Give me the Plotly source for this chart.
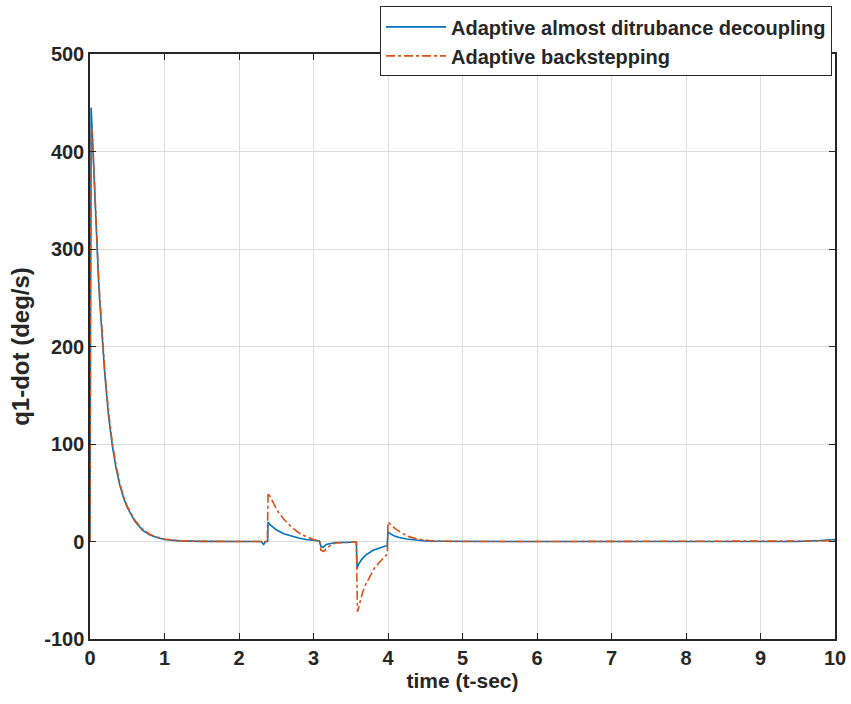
import plotly.graph_objects as go

# Adaptive almost disturbance decoupling (blue, solid)
t_add = [0, 0.005, 0.015, 0.03, 0.05, 0.07, 0.09, 0.11, 0.13, 0.16, 0.2, 0.25, 0.3, 0.35, 0.4, 0.45,
         0.5, 0.6, 0.7, 0.8, 0.9, 1.0, 1.2, 1.5, 2.0, 2.3, 2.33, 2.36, 2.385, 2.39, 2.42, 2.46, 2.5,
         2.6, 2.7, 2.8, 2.9, 3.0, 3.08, 3.1, 3.13, 3.17, 3.22, 3.3, 3.4, 3.5, 3.575, 3.585, 3.6,
         3.65, 3.7, 3.8, 3.9, 3.99, 4.0, 4.03, 4.08, 4.15, 4.25, 4.35, 4.5, 4.7, 5.0, 6.0, 7.0,
         8.0, 9.0, 9.5, 9.8, 10.0]
y_add = [0, 300, 445, 420, 380, 340, 305, 275, 247, 210, 170, 128, 98, 75, 58, 45,
         35, 21, 12, 7, 4, 2, 0.6, 0.1, 0, 0, -3, 0, 0, 20, 17, 14, 12,
         8, 5.5, 3.5, 2, 1, 0.5, -5, -6, -3, -2, -1, -1, -0.5, -0.5, -28, -24,
         -18, -14, -9, -6, -4, 10, 8, 6, 4, 2.5, 1.5, 0.5, 0.2, 0, 0, 0,
         0, 0, 0, 1, 2]

# Adaptive backstepping (orange, dash-dot)
t_ab = [0, 0.005, 0.02, 0.035, 0.05, 0.07, 0.09, 0.11, 0.13, 0.16, 0.2, 0.25, 0.3, 0.35, 0.4, 0.45,
        0.5, 0.6, 0.7, 0.8, 0.9, 1.0, 1.2, 1.5, 2.0, 2.38, 2.39, 2.43, 2.47, 2.52, 2.6, 2.7, 2.8,
        2.9, 3.0, 3.08, 3.1, 3.14, 3.18, 3.24, 3.3, 3.4, 3.5, 3.575, 3.59, 3.62, 3.66, 3.7, 3.76,
        3.82, 3.9, 3.99, 4.0, 4.04, 4.1, 4.18, 4.28, 4.4, 4.55, 4.7, 5.0, 6.0, 7.0, 8.0, 9.0,
        9.5, 9.8, 10.0]
y_ab = [0, 250, 425, 415, 385, 345, 310, 280, 252, 215, 174, 132, 101, 78, 60, 46,
        36, 22, 13, 7.5, 4.5, 2.5, 0.7, 0.1, 0, 0, 50, 44, 38, 31, 23, 15, 9,
        5, 2, 0.5, -9, -10, -7, -3, -1.5, -1, -0.5, -0.5, -72, -62, -52, -44, -35,
        -27, -20, -13, 20, 17, 13, 9, 5, 2.5, 1, 0.3, 0, 0, 0, 0, 0,
        0, 0.5, 1]

x_ticks = [0, 1, 2, 3, 4, 5, 6, 7, 8, 9, 10]
y_ticks = [-100, 0, 100, 200, 300, 400, 500]

fig = go.Figure()
fig.add_trace(go.Scatter(x=t_add, y=y_add, mode="lines",
                         name="Adaptive almost ditrubance decoupling",
                         line=dict(color="#0072BD", width=1.6)))
fig.add_trace(go.Scatter(x=t_ab, y=y_ab, mode="lines",
                         name="Adaptive backstepping",
                         line=dict(color="#D95319", width=1.6, dash="dashdot")))

font_b = "Liberation Sans, Arial, sans-serif"
fig.update_layout(
    width=851, height=704,
    margin=dict(l=90, r=16, t=54, b=65, autoexpand=False),
    paper_bgcolor="white", plot_bgcolor="white",
    font=dict(family=font_b, color="#262626"),
    legend=dict(xref="container", yref="container",
                x=0.9777, xanchor="right", y=0.991, yanchor="top",
                bgcolor="white", bordercolor="#262626", borderwidth=1,
                font=dict(size=20, family=font_b, color="#262626", weight="bold"),
                tracegroupgap=0, itemwidth=60),
    showlegend=True,
)
fig.update_xaxes(range=[0, 10], tickvals=x_ticks, ticktext=[str(v) for v in x_ticks],
                 automargin=False,
                 showgrid=True, gridcolor="#dcdcdc", gridwidth=1,
                 showline=True, linecolor="#262626", linewidth=1.5, mirror="ticks",
                 ticks="inside", ticklen=6, tickcolor="#262626",
                 tickfont=dict(size=20, weight="bold", family=font_b),
                 title=dict(text="time (t-sec)", font=dict(size=21, weight="bold"), standoff=4),
                 zeroline=False)
fig.update_yaxes(range=[-100, 500], tickvals=y_ticks, ticktext=[str(v) for v in y_ticks],
                 automargin=False,
                 showgrid=True, gridcolor="#dcdcdc", gridwidth=1,
                 showline=True, linecolor="#262626", linewidth=1.5, mirror="ticks",
                 ticks="inside", ticklen=6, tickcolor="#262626",
                 tickfont=dict(size=20, weight="bold", family=font_b),
                 title=dict(text="q1-dot (deg/s)", font=dict(size=24, weight="bold"), standoff=8),
                 zeroline=False)

fig.write_html("out.html", config={"displayModeBar": False},
               post_script="document.body.style.margin='0';document.body.style.overflow='hidden';")
